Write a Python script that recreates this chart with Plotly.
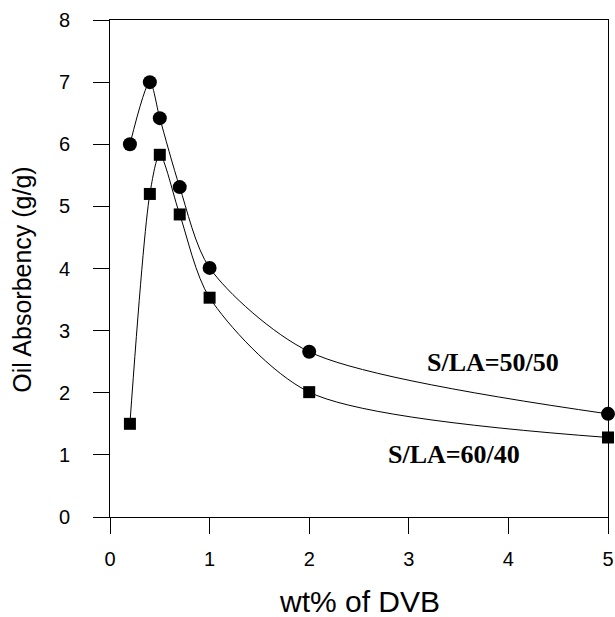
import plotly.graph_objects as go

dvb = [0.2, 0.4, 0.5, 0.7, 1.0, 2.0, 5.0]
absorb_50_50 = [6.0, 7.0, 6.42, 5.31, 4.01, 2.66, 1.66]
absorb_60_40 = [1.50, 5.20, 5.83, 4.87, 3.53, 2.01, 1.28]
x_ticks = [0, 1, 2, 3, 4, 5]
y_ticks = [0, 1, 2, 3, 4, 5, 6, 7, 8]

fig = go.Figure()
fig.add_trace(go.Scatter(
    x=dvb, y=absorb_50_50, mode="lines+markers", name="S/LA=50/50",
    line=dict(color="black", width=1, shape="spline", smoothing=0.8),
    marker=dict(symbol="circle", size=14, color="black"),
    cliponaxis=False,
))
fig.add_trace(go.Scatter(
    x=dvb, y=absorb_60_40, mode="lines+markers", name="S/LA=60/40",
    line=dict(color="black", width=1, shape="spline", smoothing=0.8),
    marker=dict(symbol="square", size=12, color="black"),
    cliponaxis=False,
))

ann_font = dict(family="Liberation Serif, Times New Roman, serif", size=26, color="black")
fig.add_annotation(x=3.85, y=2.48, text="<b>S/LA=50/50</b>", showarrow=False, font=ann_font)
fig.add_annotation(x=3.45, y=1.0, text="<b>S/LA=60/40</b>", showarrow=False, font=ann_font)

sans = "Liberation Sans, Arial, sans-serif"
# axis titles placed as annotations for precise placement
fig.add_annotation(
    xref="paper", yref="paper", x=-0.177, y=0.479,
    text="Oil Absorbency (g/g)", textangle=-90, showarrow=False,
    xanchor="center", yanchor="middle",
    font=dict(family=sans, size=25, color="black"),
)
fig.add_annotation(
    xref="paper", yref="paper", x=0.5, y=-0.170,
    text="wt% of DVB", showarrow=False,
    xanchor="center", yanchor="middle",
    font=dict(family=sans, size=30, color="black"),
)

axis_common = dict(
    showline=True, linecolor="black", linewidth=1, mirror=True,
    ticks="outside", ticklen=16, tickcolor="black", tickwidth=1,
    showgrid=False, zeroline=False,
    tickfont=dict(family=sans, size=20, color="black"),
)

fig.update_xaxes(range=[0, 5], tickvals=x_ticks, ticklabelstandoff=8, **axis_common)
fig.update_yaxes(range=[0, 8], tickvals=y_ticks, ticklabelstandoff=19, **axis_common)

fig.update_layout(
    width=615, height=617,
    margin=dict(l=110, r=7, t=20, b=100, autoexpand=False),
    plot_bgcolor="white", paper_bgcolor="white",
    showlegend=False,
)

fig.write_html(
    "out.html",
    config={"displayModeBar": False},
    post_script="document.body.style.margin='0';document.body.style.overflow='hidden';",
)
